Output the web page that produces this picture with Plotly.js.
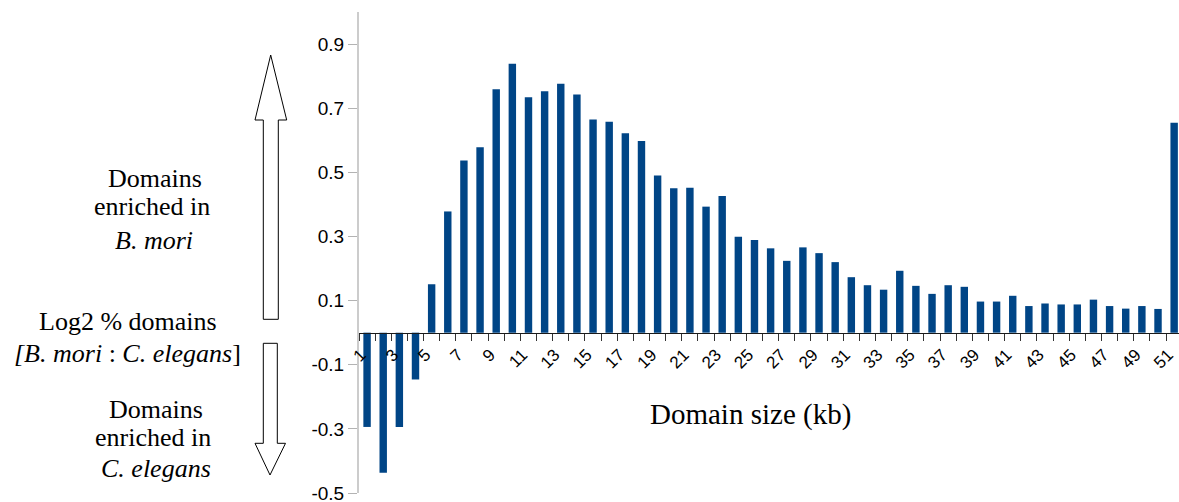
<!DOCTYPE html>
<html>
<head>
<meta charset="utf-8">
<script src="https://cdn.plot.ly/plotly-3.0.1.min.js"></script>
<style>html,body{margin:0;padding:0;background:#fff;}#chart{width:1179px;height:502px;}</style>
</head>
<body>
<div id="chart"></div>
<script>
// Domain size categories (kb)
const domainSizes = [1,2,3,4,5,6,7,8,9,10,11,12,13,14,15,16,17,18,19,20,21,22,23,24,25,26,27,28,29,30,31,32,33,34,35,36,37,38,39,40,41,42,43,44,45,46,47,48,49,50,51];
// Log2 % domains [B. mori : C. elegans]
const log2Ratio = [-0.294,-0.437,-0.294,-0.146,0.151,0.378,0.537,0.578,0.759,0.839,0.734,0.753,0.776,0.743,0.665,0.658,0.622,0.598,0.490,0.450,0.452,0.393,0.426,0.299,0.289,0.263,0.224,0.266,0.248,0.220,0.173,0.148,0.134,0.193,0.146,0.121,0.148,0.143,0.097,0.097,0.115,0.083,0.091,0.088,0.088,0.103,0.083,0.075,0.083,0.074,0.655];
// Tick labels
const xTickVals = [1,3,5,7,9,11,13,15,17,19,21,23,25,27,29,31,33,35,37,39,41,43,45,47,49,51];
const xTickText = ["1","3","5","7","9","11","13","15","17","19","21","23","25","27","29","31","33","35","37","39","41","43","45","47","49","51"];
const yTickVals = [-0.5,-0.3,-0.1,0.1,0.3,0.5,0.7,0.9];
const yTickText = ["-0.5","-0.3","-0.1","0.1","0.3","0.5","0.7","0.9"];

// geometry helpers (pixel -> paper)
const L = 359, R = 0, T = 12, B = 9, W = 1179, H = 502;
const PW = W - L - R, PH = H - T - B;
const px = x => (x - L) / PW;
const py = y => (H - B - y) / PH;
const pt = (x, y) => px(x) + ',' + py(y);

const upArrow = 'M' + pt(270.7,55) + ' L' + pt(286.7,120) + ' L' + pt(278.3,120) + ' L' + pt(278.3,319.3) +
  ' L' + pt(263.3,319.3) + ' L' + pt(263.3,120) + ' L' + pt(255,120) + ' Z';
const downArrow = 'M' + pt(263.3,343.3) + ' L' + pt(277.3,343.3) + ' L' + pt(277.3,443.3) + ' L' + pt(285.5,443.3) +
  ' L' + pt(270,475) + ' L' + pt(255,443.3) + ' L' + pt(263.3,443.3) + ' Z';

const serif = {family: 'Liberation Serif, Times New Roman, serif', size: 26, color: '#000'};
function lab(text, x, y, font) {
  return {text: text, x: px(x), y: py(y), xref: 'paper', yref: 'paper', xanchor: 'center', yanchor: 'middle',
          showarrow: false, font: font || serif};
}

const trace = {
  type: 'bar', x: domainSizes, y: log2Ratio, width: 0.46,
  marker: {color: '#004586', line: {width: 0}},
  hoverinfo: 'x+y'
};

const layout = {
  width: W, height: H,
  margin: {l: L, r: R, t: T, b: B, pad: 0},
  paper_bgcolor: '#fff', plot_bgcolor: '#fff',
  showlegend: false,
  xaxis: {
    anchor: 'free', position: 1/3,
    range: [0.5, 51.3], tickmode: 'array', tickvals: xTickVals, ticktext: xTickText,
    tickangle: -45, ticks: 'outside', ticklen: 10, tickcolor: 'rgba(0,0,0,0)', tickwidth: 1,
    showgrid: false, zeroline: false,
    showline: true, linecolor: '#1a1a1a', linewidth: 1.5,
    tickfont: {family: 'Liberation Sans, Arial, sans-serif', size: 17, color: '#000'},
    ticklabeloverflow: 'allow',
    minor: {tick0: 0.5, dtick: 1, ticks: 'outside', ticklen: 7, tickcolor: '#333', tickwidth: 1, showgrid: false}
  },
  yaxis: {
    range: [-0.5, 1.0], tickmode: 'array', tickvals: yTickVals, ticktext: yTickText,
    ticks: 'outside', ticklen: 9, tickcolor: '#b3b3b3', tickwidth: 1,
    showline: true, linecolor: '#cccccc', linewidth: 2,
    showgrid: false, zeroline: false, ticklabeloverflow: 'allow',
    tickfont: {family: 'Liberation Sans, Arial, sans-serif', size: 19, color: '#000'}
  },
  shapes: [
    {type: 'path', xref: 'paper', yref: 'paper', path: upArrow, line: {color: '#000', width: 1}, fillcolor: 'rgba(0,0,0,0)'},
    {type: 'path', xref: 'paper', yref: 'paper', path: downArrow, line: {color: '#000', width: 1}, fillcolor: 'rgba(0,0,0,0)'}
  ],
  annotations: [
    lab('Domain size (kb)', 750.5, 414.7, {family: 'Liberation Serif, Times New Roman, serif', size: 29, color: '#000'}),
    lab('Domains', 154.7, 178),
    lab('enriched in', 151.7, 207),
    lab('<i>B. mori</i>', 154, 240),
    lab('Log2 % domains', 128.3, 321),
    lab('<i>[B. mori</i> : <i>C. elegans</i>]', 127.5, 353),
    lab('Domains', 156, 409),
    lab('enriched in', 152.5, 438),
    lab('<i>C. elegans</i>', 156, 468)
  ]
};

// Simplify the rotated tick-label transforms (short numbers, rotation about the label's own anchor)
function simplifyTickLabels() {
  document.querySelectorAll('.xtick text').forEach(t => {
    const tr = t.getAttribute('transform') || '';
    const m = tr.match(/translate\(\s*([-\d.e]+)[\s,]+([-\d.e]+)\s*\)\s*rotate\(\s*([-\d.e]+)[\s,]+([-\d.e]+)[\s,]+([-\d.e]+)\s*\)/);
    if (!m) return;
    const ax = (+m[1] + +m[4]).toFixed(2), ay = (+m[2] + +m[5]).toFixed(2), a = (+m[3]).toFixed(0);
    t.setAttribute('x', ax);
    t.setAttribute('y', ay);
    t.setAttribute('transform', 'rotate(' + a + ' ' + ax + ' ' + ay + ')');
    t.style.whiteSpace = '';
  });
}

Plotly.newPlot('chart', [trace], layout, {displayModeBar: false, staticPlot: true}).then(simplifyTickLabels);
</script>
</body>
</html>
